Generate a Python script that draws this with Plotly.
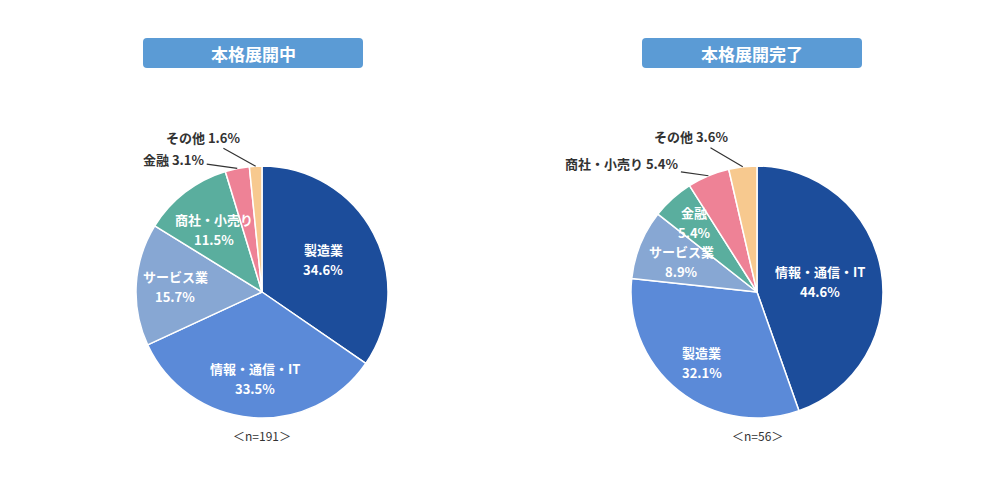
import math
import plotly.graph_objects as go

W, H = 1000, 484
PAGE = 8  # browser body margin, the figure is drawn 8px in from the page corner

# left chart: 本格展開中
left_title = "本格展開中"
left_n = "＜n=191＞"
left_labels = ["製造業", "情報・通信・IT", "サービス業", "商社・小売り", "金融", "その他"]
left_values = [34.6, 33.5, 15.7, 11.5, 3.1, 1.6]

# right chart: 本格展開完了
right_title = "本格展開完了"
right_n = "＜n=56＞"
right_labels = ["情報・通信・IT", "製造業", "サービス業", "金融", "商社・小売り", "その他"]
right_values = [44.6, 32.1, 8.9, 5.4, 5.4, 3.6]

slice_colors = ["#1c4d9b", "#5b8ad8", "#87a7d3", "#5aae9e", "#ee8296", "#f7c98f"]
title_color = "#5b9bd5"
text_dark = "#333333"
font_family = "Noto Sans CJK JP"

R_PX = 126
CY_PX = 292  # from top of page

# label style per slice: inside radius factor, or outside offset (ax, ay) in px
left_style = [("in", 0.55), ("in", 0.69), ("in", 0.69), ("in", 0.63), ("out", (-63, -9)), ("out", (-52, -29))]
right_style = [("in", 0.51), ("in", 0.71), ("in", 0.65), ("in", 0.74), ("out", (-86, -12)), ("out", (-51, -30))]


def px(x, y):
    # page pixel -> paper coords
    return (x - PAGE) / W, 1 - (y - PAGE) / H


def add_pie(fig, labels, values, style, cx_px, box_x, title, n_text):
    cx, cy = px(cx_px, CY_PX)
    rx_p, ry_p = R_PX / W, R_PX / H
    fig.add_trace(
        go.Pie(
            labels=labels,
            values=values,
            sort=False,
            direction="clockwise",
            rotation=0,
            marker=dict(colors=slice_colors, line=dict(color="white", width=1.5)),
            textinfo="none",
            hoverinfo="label+value",
            domain=dict(x=[cx - rx_p, cx + rx_p], y=[cy - ry_p, cy + ry_p]),
            showlegend=False,
        )
    )

    total = sum(values)
    cum = 0
    for lab, v, st in zip(labels, values, style):
        mid = (cum + v / 2) / total
        cum += v
        ang = math.pi / 2 - 2 * math.pi * mid
        dx, dy = math.cos(ang), math.sin(ang)
        if st[0] == "in":
            rr = R_PX * st[1]
            # name and percent as two lines, 20px apart
            for txt, shift in ((lab, 10), (f"{v:.1f}%", -10)):
                fig.add_annotation(
                    x=cx + dx * rr / W,
                    y=cy + dy * rr / H,
                    xref="paper", yref="paper",
                    xanchor="center", yanchor="middle",
                    yshift=shift,
                    text=f"<b>{txt}</b>",
                    showarrow=False,
                    font=dict(color="white", size=13, family=font_family),
                )
        else:
            ax, ay = st[1]
            fig.add_annotation(
                x=cx + dx * R_PX / W,
                y=cy + dy * R_PX / H,
                xref="paper", yref="paper",
                xanchor="center", yanchor="middle",
                text=f"<b>{lab} {v:.1f}%</b>",
                showarrow=True,
                arrowhead=0,
                arrowwidth=1.2,
                arrowcolor="#333333",
                ax=ax, ay=ay,
                standoff=0,
                font=dict(color=text_dark, size=13, family=font_family),
            )

    # title box with rounded corners
    bx0, by1 = px(box_x[0], 38)
    bx1, by0 = px(box_x[1], 68)
    rx, ry = 4 / W, 4 / H
    path = (
        f"M {bx0 + rx},{by0} L {bx1 - rx},{by0} Q {bx1},{by0} {bx1},{by0 + ry} "
        f"L {bx1},{by1 - ry} Q {bx1},{by1} {bx1 - rx},{by1} "
        f"L {bx0 + rx},{by1} Q {bx0},{by1} {bx0},{by1 - ry} "
        f"L {bx0},{by0 + ry} Q {bx0},{by0} {bx0 + rx},{by0} Z"
    )
    fig.add_shape(type="path", path=path, xref="paper", yref="paper",
                  fillcolor=title_color, line=dict(width=0))
    fig.add_annotation(
        x=(bx0 + bx1) / 2, y=(by0 + by1) / 2, xref="paper", yref="paper",
        xanchor="center", yanchor="middle",
        text=f"<b>{title}</b>", showarrow=False,
        font=dict(color="white", size=17, family=font_family),
    )
    nx, ny = px(cx_px, 435)
    fig.add_annotation(
        x=nx, y=ny, xref="paper", yref="paper",
        xanchor="center", yanchor="middle",
        text=n_text, showarrow=False,
        font=dict(color=text_dark, size=12, family=font_family),
    )


fig = go.Figure()
add_pie(fig, left_labels, left_values, left_style, 262, (143, 363), left_title, left_n)
add_pie(fig, right_labels, right_values, right_style, 757, (642, 862), right_title, right_n)

fig.update_layout(
    width=W,
    height=H,
    margin=dict(l=0, r=0, t=0, b=0),
    paper_bgcolor="white",
    plot_bgcolor="white",
    font=dict(family=font_family),
)

fig.write_html("out.html")
